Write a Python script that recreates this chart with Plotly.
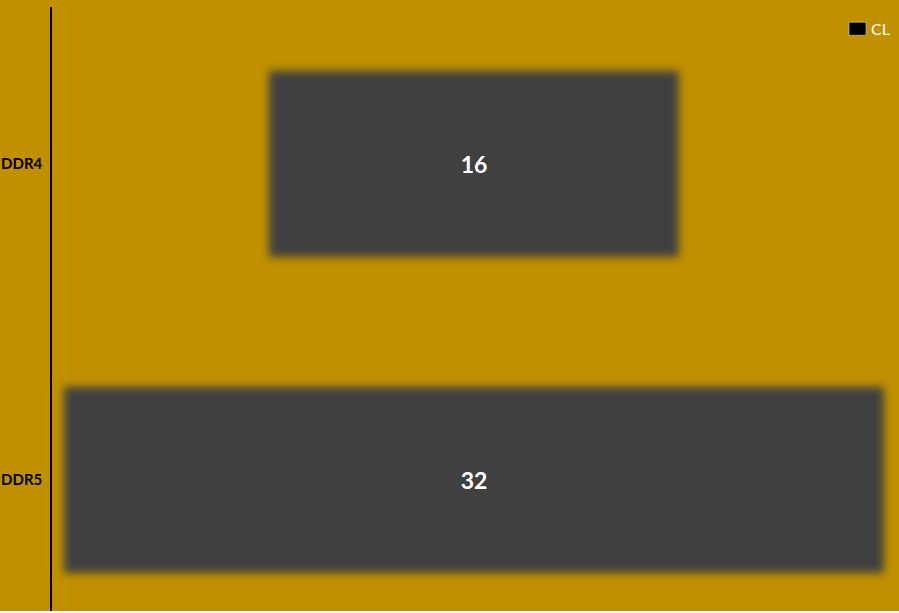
import plotly.graph_objects as go

# Data
categories = ["DDR4", "DDR5"]
cl_values = [16, 32]
series_name = "CL"

bg = "#C09000"
bar_color = "#404040"

fig = go.Figure()

# centred bars (funnel style): base shifts each bar by half its length
fig.add_trace(
    go.Bar(
        y=categories,
        x=cl_values,
        base=[-v / 2 for v in cl_values],
        orientation="h",
        width=0.59,
        marker=dict(color=bar_color, line=dict(width=0)),
        text=[str(v) for v in cl_values],
        textposition="inside",
        insidetextanchor="middle",
        textfont=dict(family="Lato", size=23, color="white", weight="bold"),
        showlegend=False,
        hoverinfo="skip",
    )
)

# legend swatch
fig.add_trace(
    go.Bar(
        y=[None],
        x=[None],
        orientation="h",
        name=series_name,
        marker=dict(color="black"),
        showlegend=True,
    )
)

fig.update_layout(
    width=899,
    height=611,
    margin=dict(l=52, r=0, t=7, b=0),
    paper_bgcolor=bg,
    plot_bgcolor=bg,
    bargap=0,
    legend=dict(
        x=0.9953, y=0.992, xanchor="right", yanchor="top",
        bgcolor="rgba(0,0,0,0)",
        font=dict(family="Lato", size=16, color="white"),
        itemwidth=30,
    ),
    xaxis=dict(
        range=[-16.48, 16.6],
        visible=False,
        showgrid=False,
        zeroline=False,
    ),
    yaxis=dict(
        range=[1.415, -0.497],
        showgrid=False,
        zeroline=False,
        showline=True,
        linecolor="black",
        linewidth=1.5,
        ticks="",
        ticklabelstandoff=5,
        tickfont=dict(family="Lato", size=15, color="black", weight="bold"),
    ),
)

# soft edges on the bars, wider legend swatch, no page margin
post_js = """
document.body.style.margin = '0';
var gd = document.getElementById('{plot_id}');
gd.querySelectorAll('.barlayer .trace .point path').forEach(function(p) {
    p.style.filter = 'blur(4px)';
});
gd.querySelectorAll('.legend .legendpoints path').forEach(function(p) {
    p.setAttribute('d', 'M15,6.5H-2V-6.5H15Z');
});
"""

fig.write_html("out.html", post_script=post_js, config={"displayModeBar": False})
